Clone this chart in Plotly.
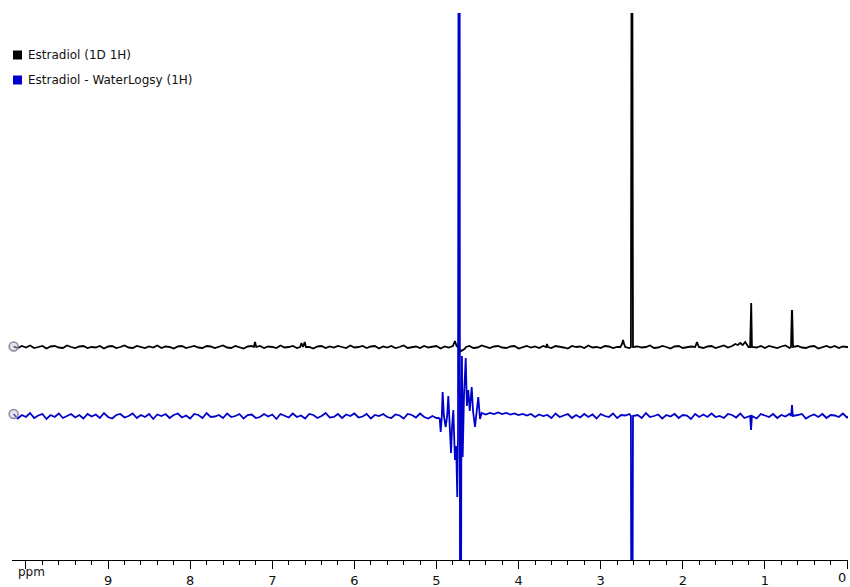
import numpy as np
import plotly.graph_objects as go

# ---------------- data ----------------
series_names = ["Estradiol (1D 1H)", "Estradiol - WaterLogsy (1H)"]
series_colors = ["#000000", "#0000cc"]

# baseline samples read every 0.05 ppm, starting at 10.15 ppm (going upfield)
GRID_START = 10.15
GRID_STEP = 0.05

black_noise = [
    0.5, -1, 1, -0.5, 1.5, -1, 0, 1, -1.5, 0.5,
    1, -0.5, -1, 1.5, 0, -1, 0.5, 1, -1, 0,
    -0.5, 1, -1.5, 0.5, 1, -1, 0, 1.5, -0.5, -1,
    1, 0, -1, 0.5, -0.5, 1.5, -1, 0.5, 0, -1.5,
    0.5, 1, -1, 0, 1, -0.5, -1, 1, 0.5, -1,
    0, 1.5, -0.5, -1, 1, 0, -1.5, 0.5, 1, -0.5,
    1, -1, 0.5, 0, -1, 1.5, -0.5, 0, 1, -1,
    -0.5, 1, 0, -1.5, 0.5, 1, -1, 0.5, -0.5, 1,
    0, -1, 1.5, -0.5, 0, 1, -1, 0.5, 1, -1.5,
    0.5, -0.5, 1, -1, 0, 1.5, -1, 0, 0.5, -1,
    1, -0.5, 0, 1, -1.5, 0.5, -0.5, 1, 0, -1,
    0.5, 1, -1, -0.5, 1.5, 0, -1, 0.5, 1, -0.5,
    -1, 0.5, 1, -1.5, 0, 1, -0.5, 0.5, -1, 1,
    0, -1, 1, 0.5, -0.5, -1.5, 1, 0, 0.5, -1,
    1.5, -0.5, 0, -1, 1, 0.5, -1, 0, 1, -0.5,
    -1, 1, 0.5, -0.5, 0, 1.5, -1, -0.5, 1, 0,
    -1.5, 0.5, 1, -1, 0, 0.5, -0.5, 1, -1, 0.5,
    1, -1, 0, 1.5, -0.5, -1, 0.5, 1, -1.5, 0,
    0.5, -0.5, 1, -1, 1, 0, -1, 0.5, 1.5, -1,
    0, 1, -0.5, -1, 0.5, 1, -1.5, 0, 1, -0.5,
    1, -1, 0.5, 0, -1, 1, -0.5, 1.5, -1, 0,
]

blue_noise = [
    2, -2.5, 1, -1, 3, -2, 0.5, 2, -3, 1,
    -1, 2.5, -2, 0, 2, -1.5, 1, -2.5, 2, -0.5,
    1.5, -2, 3, -1, -2.5, 1, 2, -1.5, 0, 2.5,
    -2, 1, -1, 2, -3, 1.5, 0, 2, -2, 1,
    2.5, -1.5, 0.5, -2.5, 2, 1, -2, 3, -1, -0.5,
    1, -2, 2.5, -1, 0, 2, -2.5, 1, 1.5, -2,
    -1, 2, -0.5, 1.5, -3, 2, 0, -1.5, 2.5, -1,
    0.5, -2.5, 2, 1, -2, 0, 3, -1.5, -1, 2,
    -2, 1.5, 0, 2.5, -1.5, -0.5, 2, -2.5, 1, 0,
    2, -1, -2, 1.5, 0.5, -2.5, 2, 1, -1.5, 2.5,
    -1, -2.5, 0, -2, -1, -3, -1.5, -2, -1, -2.5,
    -2, -1, 0, 1, 2, 1.5, 3, 2, 3.5, 2,
    3, 1.5, 2.5, 1, 2, 0.5, 2, -1, 1.5, 0,
    1, -2, 2.5, -1, 0.5, 2, -2, 1, -1.5, 2,
    -1, 1.5, -2.5, 2, 0, -1, 2.5, -2, 1, 0.5,
    2, -1.5, 1, -2, 3, -1, 0, 1.5, -2.5, 1,
    -0.5, 2, -2, 1, 0.5, -3, 2, -1, 1.5, -1,
    2.5, -1, 0, -2, 2, 1, -1.5, 2.5, -2, 0,
    1, -2.5, 2, 0.5, -1, 2, -2, 1, -0.5, 2,
    -1.5, 1, 2, -2.5, 0, 1.5, -1, 2, -2, 1,
    0.5, -1, 2.5, -1.5, 1, -2, 0, 2, -1, 1.5,
]

# resonances (ppm, intensity relative to each trace's baseline)
black_peak_ppm = [
    7.225, 7.21, 7.195,
    6.66, 6.645, 6.625, 6.605, 6.59,
    4.80, 4.775, 4.755, 4.74, 4.725, 4.70, 4.68, 4.66, 4.64,
    3.665, 3.654, 3.643,
    2.76, 2.74, 2.728, 2.715, 2.70,
    2.632, 2.622, 2.617, 2.607,
    1.85, 1.827, 1.805,
    1.40, 1.36, 1.33, 1.30, 1.27, 1.24, 1.22, 1.20,
    1.18, 1.171, 1.167, 1.158,
    0.682, 0.672, 0.668, 0.658,
]
black_peak_int = [
    0, 5, 0,
    0, 4, 0, 5, 0,
    1, 6, 1, 2, -2, -4, -3, -2, 0,
    0, 3, 0,
    0, 3, 7, 3, 0,
    0, 500, 500, 0,
    0, 5, 0,
    1, 3, 2, 4, 2, 5, 3, 0,
    0, 44, 44, 0,
    0, 36, 36, 0,
]

blue_peak_ppm = [
    4.975, 4.96, 4.949, 4.935, 4.925, 4.91, 4.888, 4.87, 4.856, 4.84,
    4.823, 4.81, 4.795, 4.785, 4.775, 4.76, 4.747, 4.738, 4.731, 4.725,
    4.718, 4.712, 4.706, 4.698, 4.69, 4.681, 4.665, 4.644, 4.63, 4.613,
    4.595, 4.571, 4.555, 4.531, 4.51, 4.491, 4.47, 4.45,
    2.632, 2.621, 2.617, 2.607,
    1.18, 1.169, 1.158,
    0.68, 0.67, 0.66,
]
blue_peak_int = [
    -2, -3, -16, 0, 24, 0, -11, 0, 20, -5,
    -37, -10, 6, -20, -44, -30, -81, -20, 500, 100,
    500, -500, -500, -50, 60, -41, 20, 58, 10, 26,
    5, 29, 5, -11, 5, 19, -3, 3,
    0, -500, -500, 0,
    0, -14, 0,
    0, 11, 0,
]

tick_values = [0, 1, 2, 3, 4, 5, 6, 7, 8, 9, 10]
tick_labels = ["0", "1", "2", "3", "4", "5", "6", "7", "8", "9", "ppm"]

# ---------------- layout constants ----------------
W, H = 850, 587
ML, MR, MT, MB = 12, 2, 13, 27
PW, PH = W - ML - MR, H - MT - MB
X_RANGE = [10.17, -0.012]
Y_RANGE = [0, PH]
OFFSETS = [213, 144]  # vertical stacking of the two spectra


def px_to_paper(px, py):
    return (px - ML) / PW, (H - MB - py) / PH


def build(noise, pk_ppm, pk_int):
    grid = GRID_START - GRID_STEP * np.arange(len(noise))
    pk = np.asarray(pk_ppm, dtype=float)
    keep = np.array([np.min(np.abs(pk - g)) >= 0.012 for g in grid])
    x = np.concatenate([grid[keep], pk])
    y = np.concatenate([np.asarray(noise, dtype=float)[keep], np.asarray(pk_int, dtype=float)])
    order = np.argsort(-x, kind="stable")
    return x[order], y[order]


spectra = [
    build(black_noise, black_peak_ppm, black_peak_int),
    build(blue_noise, blue_peak_ppm, blue_peak_int),
]

fig = go.Figure()
for (x, y), name, color, off in zip(spectra, series_names, series_colors, OFFSETS):
    fig.add_trace(go.Scatter(
        x=x, y=y + off, mode="lines", name=name,
        line=dict(color=color, width=1.8), showlegend=False,
        hoverinfo="skip",
    ))
# start-of-trace handles
for (x, y), color, off in zip(spectra, series_colors, OFFSETS):
    fig.add_trace(go.Scatter(
        x=[x[0]], y=[y[0] + off], mode="markers", showlegend=False,
        marker=dict(symbol="circle", size=9, color="rgba(190,190,210,0.45)",
                    line=dict(color="#8a8aa0", width=1.5)),
        hoverinfo="skip", cliponaxis=False,
    ))

FONT = "DejaVu Sans, Lucida Grande, Arial, sans-serif"
TEXT_COLOR = "#111111"

# legend drawn as squares + text
legend_rows_py = [55, 80]
for name, color, py in zip(series_names, series_colors, legend_rows_py):
    x0, y0 = px_to_paper(13, py - 4.5)
    x1, y1 = px_to_paper(22, py + 4.5)
    fig.add_shape(type="rect", xref="paper", yref="paper", x0=x0, x1=x1, y0=y0, y1=y1,
                  fillcolor=color, line=dict(color=color, width=0))
    tx, ty = px_to_paper(26, py)
    fig.add_annotation(xref="paper", yref="paper", x=tx, y=ty, text=name,
                       showarrow=False, xanchor="left", yanchor="middle",
                       font=dict(family=FONT, size=12, color=TEXT_COLOR))

# axis labels drawn as annotations: "ppm" at the left end (slightly raised),
# and the rightmost "0" pulled inside the window edge.
label_pos = {tick_labels[10]: (16, 572, "left"), tick_labels[0]: (848, 577, "right")}
for text, (px, py, anchor) in label_pos.items():
    ax_, ay_ = px_to_paper(px, py)
    fig.add_annotation(xref="paper", yref="paper", x=ax_, y=ay_, text=text,
                       showarrow=False, xanchor=anchor, yanchor="middle",
                       font=dict(family=FONT, size=12 if text == "ppm" else 13, color=TEXT_COLOR))

axis_ticktext = ["" if i in (0, 10) else t for i, t in enumerate(tick_labels)]

fig.update_layout(
    width=W, height=H,
    margin=dict(l=ML, r=MR, t=MT, b=MB, pad=0, autoexpand=False),
    paper_bgcolor="white", plot_bgcolor="white",
    font=dict(family=FONT, size=13, color=TEXT_COLOR),
    xaxis=dict(
        range=X_RANGE, showgrid=False, zeroline=False, automargin=False,
        showline=True, linecolor="black", linewidth=1,
        tickmode="array", tickvals=tick_values, ticktext=axis_ticktext,
        ticks="outside", ticklen=8, tickwidth=1, tickcolor="black",
        tickfont=dict(family=FONT, size=13, color=TEXT_COLOR),
        minor=dict(dtick=0.2, tick0=0, ticks="outside", ticklen=4,
                   tickwidth=1, tickcolor="black", showgrid=False),
    ),
    yaxis=dict(range=Y_RANGE, visible=False, showgrid=False, zeroline=False),
    showlegend=False,
)

# remove the browser's default page margin so the figure sits at the window origin
fig.write_html(
    "out.html",
    config={"displayModeBar": False},
    post_script="document.body.style.margin='0';document.body.style.overflow='hidden';",
)
